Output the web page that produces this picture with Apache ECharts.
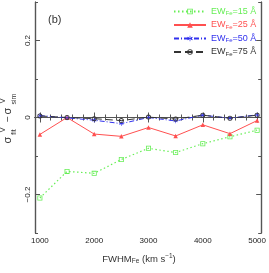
<!DOCTYPE html>
<html><head><meta charset="utf-8">
<script src="https://cdn.jsdelivr.net/npm/echarts@6/dist/echarts.min.js"></script>
<style>html,body{margin:0;padding:0;background:#fff}#c{width:269px;height:273px}</style>
</head><body><div id="c"></div>
<script>
// ---- data ----
const fwhm = [1000, 1500, 2000, 2500, 3000, 3500, 4000, 4500, 5000];
const ew15 = [-0.209, -0.140, -0.145, -0.109, -0.080, -0.091, -0.068, -0.050, -0.033];
const ew25 = [-0.044, 0.000, -0.043, -0.049, -0.026, -0.048, -0.019, -0.042, -0.008];
const ew50 = [0.005, -0.001, -0.007, -0.016, 0.000, -0.009, 0.006, -0.002, 0.007];
const ew75 = [0.004, 0.000, -0.003, -0.008, 0.001, -0.004, 0.006, -0.002, 0.006];
const seriesNames = ['15', '25', '50', '75'];
const xMajorTicks = [1000, 2000, 3000, 4000, 5000];
const xMinorTicks = [1200, 1400, 1600, 1800, 2200, 2400, 2600, 2800, 3200, 3400, 3600, 3800, 4200, 4400, 4600, 4800];
const yMajorTicks = [-0.2, 0, 0.2];
const yMinorTicks = [-0.3, -0.1, 0.1, 0.3];

const FONT = 'Liberation Sans, Arial, Helvetica, sans-serif';
const AX = '#555';
const colors = ['#66ee55', '#ff5050', '#3030ee', '#333333'];
const XMIN = 910, XMAX = 5075, YMIN = -0.3, YMAX = 0.3;

function pairs(ys) { return fwhm.map((x, i) => [x, ys[i]]); }

function xAx(pos, ticks, len, labels) {
  return {
    type: 'value', position: pos, min: XMIN, max: XMAX,
    axisLine: { show: true, lineStyle: { color: AX, width: 1.2 } },
    axisTick: { show: true, inside: true, length: len, customValues: ticks, lineStyle: { color: AX, width: 1 } },
    axisLabel: labels ? { show: true, customValues: ticks, margin: 4, fontSize: 8, color: '#222', fontFamily: FONT,
      formatter: v => String(Math.round(v)) } : { show: false },
    splitLine: { show: false }
  };
}
function yAx(pos, ticks, len, labels) {
  return {
    type: 'value', position: pos, min: YMIN, max: YMAX,
    axisLine: { show: true, lineStyle: { color: AX, width: 1.2 } },
    axisTick: { show: true, inside: true, length: len, customValues: ticks, lineStyle: { color: AX, width: 1 } },
    axisLabel: labels ? { show: true, customValues: ticks, rotate: 90, margin: 3, fontSize: 8, color: '#222', fontFamily: FONT,
      formatter: v => (Math.abs(v) < 1e-9 ? '0' : (v < 0 ? '\u22120.2' : '0.2')) } : { show: false },
    splitLine: { show: false }
  };
}

const ringRect = 'path://M0,0H10V10H0Z M1.6,1.6V8.4H8.4V1.6Z';
const ringCircle = 'path://M5,0A5,5,0,1,1,5,10A5,5,0,1,1,5,0Z M5,1.6A3.4,3.4,0,1,0,5,8.4A3.4,3.4,0,1,0,5,1.6Z';
const star = 'path://M4.5,0 L5.5,0 L5.5,3.6 L8.6,1.8 L9.1,2.7 L6,4.5 L9.1,6.3 L8.6,7.2 L5.5,5.4 L5.5,9 L4.5,9 L4.5,5.4 L1.4,7.2 L0.9,6.3 L4,4.5 L0.9,2.7 L1.4,1.8 L4.5,3.6 Z';
const symbols = [ringRect, 'triangle', star, ringCircle];

const chart = echarts.init(document.getElementById('c'), null, { renderer: 'canvas' });
chart.setOption({
  backgroundColor: '#fff',
  animation: false,
  grid: { left: 35, right: 5, top: 2, bottom: 40 },
  xAxis: [xAx('bottom', xMajorTicks, 5, true), xAx('bottom', xMinorTicks, 3, false),
          xAx('top', xMajorTicks, 5, false), xAx('top', xMinorTicks, 3, false)],
  yAxis: [yAx('left', yMajorTicks, 5, true), yAx('left', yMinorTicks, 3, false),
          yAx('right', yMajorTicks, 5, false), yAx('right', yMinorTicks, 3, false)],
  legend: {
    orient: 'vertical', left: 173, top: 7, itemWidth: 32, itemHeight: 7, itemGap: 4,
    padding: 0,
    formatter: n => '{a|EW}{s|Fe}{a|=' + n + ' \u00c5}',
    textStyle: { fontSize: 8.5, fontFamily: FONT,
      rich: { a: { fontSize: 9, fontFamily: FONT }, s: { fontSize: 6, fontFamily: FONT, padding: [4, 0, 0, 0] } } },
    data: seriesNames.map((n, i) => ({ name: n, textStyle: { color: colors[i] } }))
  },
  series: [
    { name: seriesNames[0], type: 'line', data: pairs(ew15), symbol: symbols[0], symbolSize: 5,
      lineStyle: { color: colors[0], width: 1.2, type: [1.5, 2.5] }, itemStyle: { color: colors[0] } },
    { name: seriesNames[1], type: 'line', data: pairs(ew25), symbol: symbols[1], symbolSize: 4.5,
      lineStyle: { color: colors[1], width: 1 }, itemStyle: { color: colors[1] } },
    { name: seriesNames[2], type: 'line', data: pairs(ew50), symbol: symbols[2], symbolSize: 4.5,
      lineStyle: { color: colors[2], width: 1, type: [5, 2, 1, 2] }, itemStyle: { color: colors[2] } },
    { name: seriesNames[3], type: 'line', data: pairs(ew75), symbol: symbols[3], symbolSize: 5,
      lineStyle: { color: colors[3], width: 1, type: [7, 4] }, itemStyle: { color: colors[3] } }
  ],
  graphic: [
    { type: 'text', left: 48, top: 14, style: { text: '(b)', fontSize: 11, fontFamily: FONT, fill: '#333' } },
    { type: 'text', x: 139, y: 259, style: { text: '{a|FWHM}{s|Fe}{a| (km s}{p|\u22121}{a|)}', align: 'center', verticalAlign: 'middle',
      fill: '#333', fontFamily: FONT,
      rich: { a: { fontSize: 9.5, fontFamily: FONT, fill: '#333' }, s: { fontSize: 6.5, fontFamily: FONT, fill: '#333', padding: [5, 0, 0, 0] },
              p: { fontSize: 6.5, fontFamily: FONT, fill: '#333', padding: [0, 0, 5, 0] } } } },
    { type: 'group', x: 8, y: 119, rotation: Math.PI / 2, children: [
      { type: 'text', x: -21, y: 0, style: { text: '\u03c3', fontSize: 11, fontFamily: FONT, fill: '#333', align: 'center', verticalAlign: 'middle' } },
      { type: 'text', x: -11, y: -5, style: { text: 'V', fontSize: 7, fontFamily: FONT, fill: '#333', align: 'center', verticalAlign: 'middle' } },
      { type: 'text', x: -13, y: 6, style: { text: 'fit', fontSize: 7, fontFamily: FONT, fill: '#333', align: 'center', verticalAlign: 'middle' } },
      { type: 'text', x: 0, y: 0, style: { text: '\u2212', fontSize: 10, fontFamily: FONT, fill: '#333', align: 'center', verticalAlign: 'middle' } },
      { type: 'text', x: 8, y: 0, style: { text: '\u03c3', fontSize: 11, fontFamily: FONT, fill: '#333', align: 'center', verticalAlign: 'middle' } },
      { type: 'text', x: 18, y: -5, style: { text: 'V', fontSize: 7, fontFamily: FONT, fill: '#333', align: 'center', verticalAlign: 'middle' } },
      { type: 'text', x: 20, y: 6, style: { text: 'sim', fontSize: 7, fontFamily: FONT, fill: '#333', align: 'center', verticalAlign: 'middle' } }
    ] }
  ]
});
</script></body></html>
